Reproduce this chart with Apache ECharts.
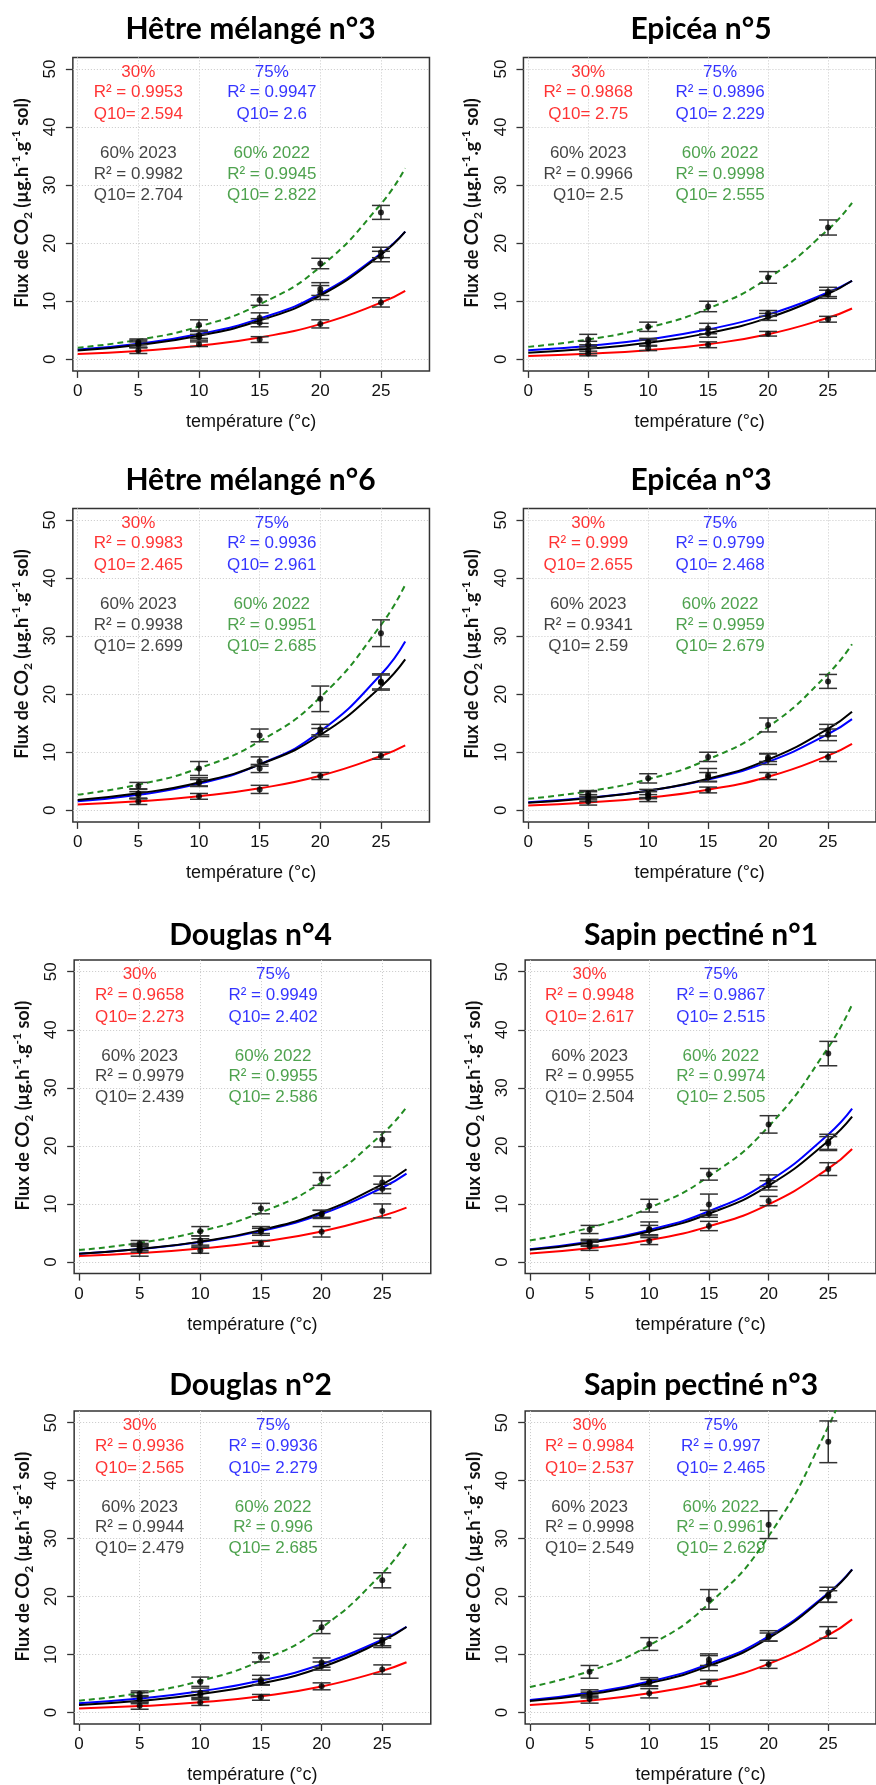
<!DOCTYPE html>
<html><head><meta charset="utf-8">
<script src="https://cdn.jsdelivr.net/npm/echarts@6/dist/echarts.min.js"></script>
<style>html,body{margin:0;padding:0;background:#fff}#c{width:876px;height:1785px}</style>
</head><body><div id="c"></div>
<script>
// ---------- DATA ----------
const panelTitles = ['Hêtre mélangé n°3','Epicéa n°5','Hêtre mélangé n°6','Epicéa n°3','Douglas n°4','Sapin pectiné n°1','Douglas n°2','Sapin pectiné n°3'];
const measureTemps = [5, 10, 15, 20, 25];
const fitTemps = [0, 5, 10, 15, 20, 25, 27];
const xTicks = [0, 5, 10, 15, 20, 25];
const yTicks = [0, 10, 20, 30, 40, 50];
const groupNames = ['30%', '75%', '60% 2023', '60% 2022'];
const xName = 'température (°c)';
const yName = 'Flux de CO{sub|2} (µg.h{sup|-1}.g{sup|-1} sol)';

const r2_30 = ['0.9953','0.9868','0.9983','0.999','0.9658','0.9948','0.9936','0.9984'];
const q10_30 = ['2.594','2.75','2.465','2.655','2.273','2.617','2.565','2.537'];
const r2_75 = ['0.9947','0.9896','0.9936','0.9799','0.9949','0.9867','0.9936','0.997'];
const q10_75 = ['2.6','2.229','2.961','2.468','2.402','2.515','2.279','2.465'];
const r2_23 = ['0.9982','0.9966','0.9938','0.9341','0.9979','0.9955','0.9944','0.9998'];
const q10_23 = ['2.704','2.5','2.699','2.59','2.439','2.504','2.479','2.549'];
const r2_22 = ['0.9945','0.9998','0.9951','0.9959','0.9955','0.9974','0.996','0.9961'];
const q10_22 = ['2.822','2.555','2.685','2.679','2.586','2.505','2.685','2.629'];

// measured means and error (per panel, at measureTemps)
const mean30 = [[1.5,2.6,3.4,6.1,9.8],[1.0,1.9,2.5,4.4,6.9],[1.5,2.4,3.6,5.9,9.4],[1.5,2.1,3.5,5.9,9.2],[2.0,2.0,3.2,5.2,8.8],[2.7,3.6,6.2,10.5,16.0],[1.15,1.7,2.6,4.5,7.4],[2.3,3.3,5.1,8.3,13.8]];
const err30 = [[0.5,0.4,0.5,0.7,0.8],[0.4,0.4,0.5,0.4,0.5],[0.5,0.5,0.7,0.6,0.6],[0.6,0.6,0.5,0.6,0.8],[1.0,0.5,0.5,0.9,1.2],[0.7,0.6,0.8,0.8,1.1],[0.6,0.5,0.5,0.6,0.8],[0.7,0.8,0.6,0.7,1.0]];
const mean75 = [[2.7,4.2,7.1,12.1,18.4],[2.5,3.0,5.3,7.9,11.6],[2.9,4.9,8.4,13.9,22.2],[2.5,2.9,6.1,8.8,13.0],[2.3,3.3,5.5,8.3,12.6],[3.4,5.7,9.9,14.0,20.7],[2.6,3.4,5.6,8.6,12.5],[3.3,5.3,9.1,13.2,20.3]];
const err75 = [[0.6,0.6,0.9,1.1,0.9],[0.6,0.6,0.9,0.5,0.8],[0.8,0.7,0.8,0.9,1.3],[0.7,0.7,1.1,0.9,1.0],[0.6,0.7,0.6,0.6,0.8],[0.5,1.2,1.8,1.0,1.3],[0.8,0.8,0.8,0.8,1.0],[0.6,0.7,1.0,0.9,1.3]];
const mean23 = [[2.5,3.8,6.3,11.5,17.7],[1.6,2.8,4.5,7.3,11.2],[2.6,4.7,7.2,13.4,22.0],[2.1,2.6,5.7,9.1,13.8],[2.6,3.7,5.2,8.2,13.7],[3.2,5.5,8.3,13.2,20.4],[2.2,3.0,5.2,8.0,12.0],[3.0,5.1,8.5,13.0,20.0]];
const err23 = [[0.5,0.5,0.7,1.2,0.9],[0.6,0.5,0.7,0.6,0.7],[0.6,0.6,0.7,0.7,1.3],[0.6,0.6,0.8,0.7,1.0],[0.6,0.8,0.6,0.7,1.1],[0.5,0.8,0.6,0.8,1.2],[0.7,0.6,0.5,0.7,0.8],[0.5,0.6,1.3,0.7,1.0]];
const mean22 = [[3.0,5.9,10.2,16.5,25.3],[3.4,5.6,9.1,14.1,22.7],[4.2,7.2,12.9,19.2,30.5],[2.9,5.5,9.2,14.7,22.2],[3.2,5.3,9.2,14.3,21.1],[5.6,9.7,15.1,23.7,35.9],[3.2,5.3,9.5,14.7,22.8],[7.0,11.8,19.5,32.4,46.7]];
const err22 = [[0.5,0.9,0.9,0.9,1.2],[0.9,0.8,0.9,1.0,1.3],[0.6,1.2,1.1,2.2,2.3],[0.5,0.8,0.8,1.2,1.2],[0.5,0.8,0.9,1.1,1.3],[0.7,1.1,1.0,1.5,2.1],[0.5,0.8,0.8,1.1,1.3],[1.1,1.1,1.7,2.4,3.6]];

// fitted curves (per panel, at fitTemps)
const fit30 = [[0.9,1.45,2.33,3.76,6.06,9.75,11.8],[0.57,0.95,1.57,2.6,4.31,7.15,8.75],[0.98,1.54,2.42,3.79,5.95,9.35,11.2],[0.82,1.34,2.18,3.55,5.78,9.42,11.45],[1.02,1.54,2.32,3.5,5.27,7.94,9.36],[1.45,2.35,3.79,6.14,9.93,16.07,19.47],[0.68,1.09,1.74,2.79,4.47,7.17,8.65],[1.3,2.07,3.3,5.25,8.37,13.33,16.06]];
const fit75 = [[1.67,2.69,4.34,7.0,11.29,18.2,22.0],[1.55,2.31,3.45,5.16,7.7,11.5,13.5],[1.55,2.67,4.59,7.9,13.59,23.38,29.06],[1.37,2.15,3.38,5.31,8.34,13.11,15.7],[1.43,2.22,3.43,5.32,8.25,12.79,15.23],[2.19,3.47,5.51,8.74,13.85,21.97,26.41],[1.6,2.42,3.65,5.5,8.31,12.55,14.78],[2.16,3.39,5.32,8.36,13.12,20.6,24.69]];
const fit23 = [[1.5,2.47,4.06,6.67,10.97,18.03,22.0],[1.14,1.8,2.85,4.51,7.13,11.27,13.53],[1.78,2.92,4.8,7.89,12.97,21.3,25.99],[1.3,2.09,3.37,5.42,8.72,14.03,16.98],[1.44,2.25,3.51,5.49,8.57,13.38,15.98],[2.1,3.32,5.26,8.32,13.17,20.84,25.03],[1.27,2.0,3.15,4.96,7.8,12.29,14.73],[1.97,3.15,5.02,8.02,12.8,20.43,24.64]];
const fit22 = [[2.0,3.36,5.64,9.48,15.93,26.76,32.9],[2.14,3.42,5.47,8.74,13.97,22.33,26.94],[2.7,4.42,7.25,11.88,19.46,31.9,38.85],[2.0,3.27,5.36,8.77,14.35,23.49,28.6],[2.05,3.3,5.3,8.53,13.71,22.05,26.65],[3.72,5.89,9.32,14.75,23.34,36.95,44.38],[2.03,3.33,5.45,8.93,14.63,23.98,29.21],[4.4,7.13,11.57,18.76,30.41,49.31,59.8]];

// ---------- STYLE / LAYOUT ----------
const FONT = "'Liberation Sans', Arial, sans-serif";
const TFONT = "Lato, 'Liberation Sans', sans-serif";
const RED = '#ff0000', BLUE = '#0000ff', BLACK = '#000000', GREEN = '#228b22';
const SX = 12.13, SY = 5.806;
const colX0 = [[77.7, 528.3], [77.7, 528.3], [79, 530], [79, 530]];
const rowY50 = [69, 520, 971.7, 1422.7];
const titleY = [29, 480.7, 935, 1385];
const titleX = [250.5, 701];
const annoX = [5, 16];
const annoTopY = [49.5, 45.9, 42.2];
const annoBotY = [35.4, 31.9, 28.3];

const grids = [], xAxes = [], yAxes = [], series = [], graphics = [];
for (let i = 0; i < 8; i++) {
  const r = Math.floor(i / 2), c = i % 2;
  const x0 = colX0[r][c], y50 = rowY50[r];
  const gLeft = x0 - 0.4 * SX;
  grids.push({left: gLeft, top: y50 - 2 * SY, width: 29.4 * SX, height: 54 * SY,
    show: true, borderColor: '#333', borderWidth: 1.5, backgroundColor: '#fff'});
  xAxes.push({type: 'value', gridIndex: i, min: -0.4, max: 29,
    name: xName, nameLocation: 'middle', nameGap: 42,
    nameTextStyle: {fontSize: 18, color: '#111', fontFamily: FONT},
    axisLine: {show: false, onZero: false},
    axisTick: {show: true, inside: false, length: 7, customValues: xTicks, lineStyle: {color: '#333', width: 1.3}},
    axisLabel: {show: true, customValues: xTicks, fontSize: 17, color: '#111', margin: 12, fontFamily: FONT},
    splitLine: {show: true, lineStyle: {color: '#c8c8c8', type: [1, 2], width: 1}}});
  yAxes.push({type: 'value', gridIndex: i, min: -2, max: 52,
    axisLine: {show: false, onZero: false},
    axisTick: {show: true, inside: false, length: 7, customValues: yTicks, lineStyle: {color: '#333', width: 1.3}},
    axisLabel: {show: true, customValues: yTicks, rotate: 90, fontSize: 17, color: '#111', margin: 14, fontFamily: FONT},
    splitLine: {show: true, lineStyle: {color: '#c8c8c8', type: [1, 2], width: 1}}});

  graphics.push({type: 'text', x: titleX[c], y: titleY[r], z: 10,
    style: {text: panelTitles[i], fontSize: 30, fontWeight: 'bold', fontFamily: TFONT, fill: '#000', align: 'center', verticalAlign: 'middle'}});
  graphics.push({type: 'text', x: gLeft - 51, y: y50 + 134, rotation: Math.PI / 2, z: 10,
    style: {text: yName, fontSize: 18, fontWeight: 'bold', fontFamily: TFONT, fill: '#111',
      align: 'center', verticalAlign: 'middle', lineHeight: 24,
      rich: {
        sub: {fontSize: 12, fontWeight: 'bold', fontFamily: TFONT, fill: '#111', verticalAlign: 'bottom'},
        sup: {fontSize: 12, fontWeight: 'bold', fontFamily: TFONT, fill: '#111', verticalAlign: 'top'}
      }}});

  const groups = [
    {fit: fit30, mean: mean30, err: err30, color: RED, dashed: false},
    {fit: fit75, mean: mean75, err: err75, color: BLUE, dashed: false},
    {fit: fit23, mean: mean23, err: err23, color: BLACK, dashed: false},
    {fit: fit22, mean: mean22, err: err22, color: GREEN, dashed: true}
  ];
  groups.forEach(g => {
    series.push({type: 'line', xAxisIndex: i, yAxisIndex: i, silent: true, clip: true,
      data: fitTemps.map((x, k) => [x, g.fit[i][k]]), showSymbol: false, symbol: 'none',
      smooth: 0.5,
      lineStyle: {color: g.color, width: 2, type: g.dashed ? [6, 4] : 'solid'}, z: 3});
  });
  const errData = [], dotData = [];
  groups.forEach(g => {
    measureTemps.forEach((x, k) => {
      errData.push([x, g.mean[i][k], g.err[i][k]]);
      dotData.push([x, g.mean[i][k]]);
    });
  });
  series.push({type: 'custom', xAxisIndex: i, yAxisIndex: i, silent: true, z: 4,
    data: errData, encode: {x: 0, y: 1},
    renderItem: function (params, api) {
      const x = api.value(0), m = api.value(1), e = api.value(2);
      const t = api.coord([x, m + e]), b = api.coord([x, m - e]);
      const hw = 9, st = {stroke: '#333', lineWidth: 1.5};
      return {type: 'group', children: [
        {type: 'line', shape: {x1: t[0], y1: t[1], x2: b[0], y2: b[1]}, style: st},
        {type: 'line', shape: {x1: t[0] - hw, y1: t[1], x2: t[0] + hw, y2: t[1]}, style: st},
        {type: 'line', shape: {x1: b[0] - hw, y1: b[1], x2: b[0] + hw, y2: b[1]}, style: st}
      ]};
    }});
  series.push({type: 'scatter', xAxisIndex: i, yAxisIndex: i, silent: true, z: 5,
    data: dotData, symbolSize: 6, itemStyle: {color: '#000'}});

  const texts = [
    {col: 0, ys: annoTopY, color: RED, lines: [groupNames[0], 'R² = ' + r2_30[i], 'Q10= ' + q10_30[i]]},
    {col: 1, ys: annoTopY, color: BLUE, lines: [groupNames[1], 'R² = ' + r2_75[i], 'Q10= ' + q10_75[i]]},
    {col: 0, ys: annoBotY, color: '#111', lines: [groupNames[2], 'R² = ' + r2_23[i], 'Q10= ' + q10_23[i]]},
    {col: 1, ys: annoBotY, color: GREEN, lines: [groupNames[3], 'R² = ' + r2_22[i], 'Q10= ' + q10_22[i]]}
  ];
  const annoData = [];
  texts.forEach(t => t.lines.forEach((s, k) => {
    annoData.push({value: [annoX[t.col], t.ys[k]], txt: s, label: {color: t.color}});
  }));
  series.push({type: 'scatter', xAxisIndex: i, yAxisIndex: i, silent: true, z: 6,
    data: annoData, symbolSize: 1, itemStyle: {color: 'rgba(0,0,0,0)'},
    label: {show: true, position: 'inside', align: 'center', verticalAlign: 'middle',
      fontSize: 17, fontFamily: FONT, formatter: p => p.data.txt}});
}

const chart = echarts.init(document.getElementById('c'), null, {renderer: 'canvas'});
chart.setOption({
  animation: false,
  backgroundColor: '#fff',
  grid: grids, xAxis: xAxes, yAxis: yAxes, series: series, graphic: graphics
});
</script>
</body></html>
